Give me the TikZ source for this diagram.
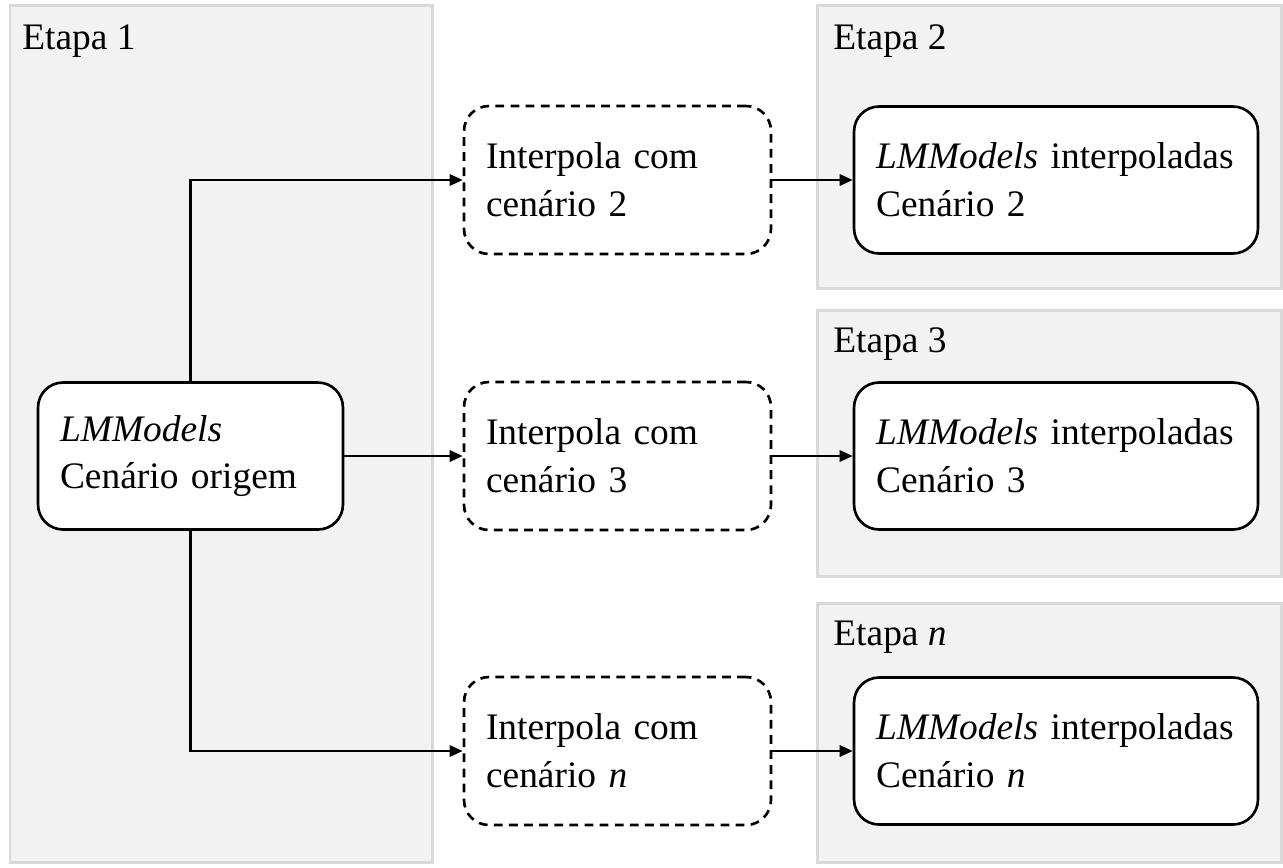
\documentclass[tikz,border=0pt]{standalone}
\usepackage{fontspec}
\setmainfont{Liberation Serif}
\usetikzlibrary{arrows.meta}

\definecolor{panelfill}{HTML}{F2F2F2}
\definecolor{paneldraw}{HTML}{D9D9D9}

\tikzset{
    panel/.style={fill=panelfill, draw=paneldraw, line width=1.7pt},
    etapa/.style={anchor=base west, inner sep=0pt},
    caixa/.style={draw, fill=white, line width=1.5pt, rounded corners=0.5cm,
        align=left, inner xsep=0.44cm, inner ysep=0pt},
    interp/.style={caixa, fill=none, dash pattern=on 5pt off 3.6pt},
    seta/.style={line width=1.3pt, -{Triangle[length=7.5pt,width=6.5pt]}}
}

\begin{document}
\begin{tikzpicture}[x=0.02cm, y=-0.02cm]
    \fontsize{21.3}{27.2}\selectfont
    \useasboundingbox (0,0) rectangle (1283,867);

    % etapas
    \draw[panel] (10,5) rectangle (432,862);
    \draw[panel] (817,5) rectangle (1281,288);
    \draw[panel] (817,310) rectangle (1281,576);
    \draw[panel] (817,603) rectangle (1281,862);
    \node[etapa] (e1) at (22,49) {Etapa 1};
    \node[etapa] (e2) at (833,49) {Etapa 2};
    \node[etapa] (e3) at (833,352) {Etapa 3};
    \node[etapa] (en) at (833,645) {Etapa \textit{n}};

    % caixas
    \node[caixa, minimum width=6.1cm, minimum height=2.94cm, text width=5.22cm]
        (orig) at (190.5,456) {\textit{LMModels}\\Cenário origem};
    \node[interp, minimum width=6.14cm, minimum height=2.96cm, text width=5.26cm]
        (int2) at (617.5,180) {Interpola com\\cenário 2};
    \node[interp, minimum width=6.14cm, minimum height=2.96cm, text width=5.26cm]
        (int3) at (617.5,456) {Interpola com\\cenário 3};
    \node[interp, minimum width=6.14cm, minimum height=2.96cm, text width=5.26cm]
        (intn) at (617.5,751) {Interpola com\\cenário \textit{n}};
    \node[caixa, minimum width=8.08cm, minimum height=2.94cm, text width=7.2cm]
        (res2) at (1056,180) {\textit{LMModels} interpoladas\\Cenário 2};
    \node[caixa, minimum width=8.08cm, minimum height=2.94cm, text width=7.2cm]
        (res3) at (1056,456) {\textit{LMModels} interpoladas\\Cenário 3};
    \node[caixa, minimum width=8.08cm, minimum height=2.94cm, text width=7.2cm]
        (resn) at (1056,751) {\textit{LMModels} interpoladas\\Cenário \textit{n}};

    % setas
    \draw[seta] (orig.north) |- (int2.west);
    \draw[seta] (orig.east) -- (int3.west);
    \draw[seta] (orig.south) |- (intn.west);
    \draw[seta] (int2.east) -- (res2.west |- int2.east);
    \draw[seta] (int3.east) -- (res3.west |- int3.east);
    \draw[seta] (intn.east) -- (resn.west |- intn.east);
\end{tikzpicture}
\end{document}
